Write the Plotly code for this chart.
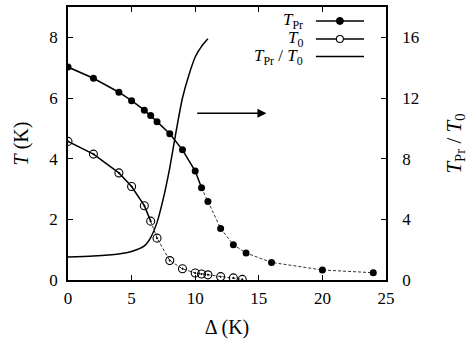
import plotly.graph_objects as go

# Data
delta_pr = [0, 2, 4, 5, 6, 6.5, 7, 8, 9, 10, 10.5, 11, 12, 13, 14, 16, 20, 24]
t_pr = [7.02, 6.65, 6.19, 5.91, 5.60, 5.42, 5.22, 4.82, 4.29, 3.59, 3.04, 2.59, 1.70, 1.16, 0.89, 0.58, 0.33, 0.24]
pr_solid_n = 11  # points joined by the solid line (x <= 10.5)

delta_0 = [0, 2, 4, 5, 6, 6.5, 7, 8, 9, 10, 10.5, 11, 12, 13, 13.7]
t_0 = [4.57, 4.15, 3.53, 3.08, 2.45, 1.94, 1.38, 0.64, 0.37, 0.23, 0.20, 0.17, 0.11, 0.07, 0.02]
t0_solid_n = 6  # points joined by the solid line (x <= 6.5)

delta_ratio = [0, 2, 4, 5, 6, 6.5, 7, 7.5, 8, 8.5, 9, 9.5, 10, 10.5, 11]
ratio = [1.52, 1.58, 1.72, 1.88, 2.25, 2.8, 3.8, 5.4, 7.4, 9.8, 12.0, 13.5, 14.7, 15.4, 15.9]

FONT = "Liberation Serif, Times New Roman, serif"
BLACK = "#000000"

fig = go.Figure()

# T_Pr lines
fig.add_trace(go.Scatter(x=delta_pr[:pr_solid_n], y=t_pr[:pr_solid_n], mode="lines",
                         line=dict(color=BLACK, width=1.5), showlegend=False, hoverinfo="skip"))
fig.add_trace(go.Scatter(x=delta_pr[pr_solid_n - 1:], y=t_pr[pr_solid_n - 1:], mode="lines",
                         line=dict(color="#333333", width=1, dash="3px,2px"), showlegend=False, hoverinfo="skip"))
# T_0 lines
fig.add_trace(go.Scatter(x=delta_0[:t0_solid_n], y=t_0[:t0_solid_n], mode="lines",
                         line=dict(color=BLACK, width=1.5), showlegend=False, hoverinfo="skip"))
fig.add_trace(go.Scatter(x=delta_0[t0_solid_n - 1:], y=t_0[t0_solid_n - 1:], mode="lines",
                         line=dict(color="#333333", width=1, dash="3px,2px"), showlegend=False, hoverinfo="skip"))
# Ratio curve on right axis
fig.add_trace(go.Scatter(x=delta_ratio, y=ratio, mode="lines", yaxis="y2",
                         line=dict(color=BLACK, width=1.5, shape="spline", smoothing=0.8),
                         showlegend=False, name="T_Pr / T_0"))
# markers
fig.add_trace(go.Scatter(x=delta_pr, y=t_pr, mode="markers", name="T_Pr",
                         marker=dict(symbol="circle", size=7, color=BLACK), showlegend=False))
fig.add_trace(go.Scatter(x=delta_0, y=t_0, mode="markers", name="T_0",
                         marker=dict(symbol="circle-open-dot", size=8, color=BLACK,
                                     line=dict(width=1.1, color=BLACK)), showlegend=False))

# Manual gnuplot-style legend (text right-aligned, sample on the right)
leg_rows = [0.949, 0.883, 0.8185]
leg_text = ["<i>T</i><sub>Pr</sub>", "<i>T</i><sub>0</sub>", "<i>T</i><sub>Pr</sub> / <i>T</i><sub>0</sub>"]
shapes = []
annotations = []
for yy, tx in zip(leg_rows, leg_text):
    annotations.append(dict(xref="paper", yref="paper", x=0.745, y=yy, text=tx, showarrow=False,
                            xanchor="right", yanchor="middle", font=dict(family=FONT, size=17, color=BLACK)))
    shapes.append(dict(type="line", xref="paper", yref="paper", x0=0.7795, x1=0.9307, y0=yy, y1=yy,
                       line=dict(color=BLACK, width=1.5)))
shapes.append(dict(type="circle", xref="paper", yref="paper", xsizemode="pixel", ysizemode="pixel",
                   xanchor=0.855, yanchor=leg_rows[0], x0=-3.5, x1=3.5, y0=-3.5, y1=3.5,
                   fillcolor=BLACK, line=dict(color=BLACK, width=1)))
shapes.append(dict(type="circle", xref="paper", yref="paper", xsizemode="pixel", ysizemode="pixel",
                   xanchor=0.855, yanchor=leg_rows[1], x0=-3.5, x1=3.5, y0=-3.5, y1=3.5,
                   fillcolor="white", line=dict(color=BLACK, width=1.1)))

# Arrow pointing to the right axis
annotations.append(dict(x=15.6, y=5.5, ax=10.04, ay=5.5, xref="x", yref="y", axref="x", ayref="y",
                        text="", showarrow=True, arrowhead=2, arrowsize=1.2, arrowwidth=1.5,
                        arrowcolor=BLACK))

axis_common = dict(showline=True, linecolor=BLACK, linewidth=1.5, ticks="inside", ticklen=5,
                   tickcolor=BLACK, tickwidth=1.2, showgrid=False, zeroline=False,
                   tickfont=dict(family=FONT, size=17, color=BLACK))

fig.update_layout(
    width=471, height=346,
    margin=dict(l=68, r=85, t=5, b=66),
    plot_bgcolor="white", paper_bgcolor="white",
    font=dict(family=FONT, color=BLACK),
    showlegend=False,
    xaxis=dict(range=[0, 25], dtick=5, mirror="ticks", ticklabelstandoff=2,
               title=dict(text="Δ (K)", font=dict(family=FONT, size=20, color=BLACK), standoff=13),
               **axis_common),
    yaxis=dict(range=[0, 9], dtick=2, mirror=False, ticklabelstandoff=5,
               title=dict(text="<i>T</i> (K)", font=dict(family=FONT, size=20, color=BLACK), standoff=15),
               **axis_common),
    yaxis2=dict(range=[0, 18], dtick=4, overlaying="y", side="right", anchor="x", ticklabelstandoff=11,
                title=dict(text="<i>T</i><sub>Pr</sub> / <i>T</i><sub>0</sub>",
                           font=dict(family=FONT, size=21, color=BLACK), standoff=28),
                **axis_common),
    shapes=shapes,
    annotations=annotations,
)

fig.write_html("out.html")
